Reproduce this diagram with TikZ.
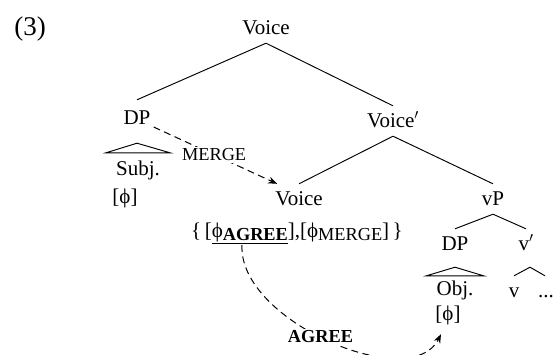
\documentclass[tikz,border=0pt]{standalone}
\usepackage{fontspec}
\setmainfont{Liberation Serif}
\usetikzlibrary{arrows.meta}

% smaller caps used for the feature labels
\newcommand\featsize{\fontsize{18.3}{18}\selectfont}
% heavy underline
\newcommand\thickul[1]{\leavevmode\vtop{\hbox{#1}\kern1.2pt\hrule height 1.7pt}}

\tikzset{
  cat/.style={font=\fontsize{21}{24}\selectfont, inner sep=0pt,
              text height=21pt, text depth=9pt, anchor=base},
  leaf/.style={font=\fontsize{21}{24}\selectfont, inner xsep=10pt, inner ysep=0pt,
               text height=22pt, text depth=6pt, anchor=base},
  branch/.style={line width=0.95pt},
  dashline/.style={line width=1pt, dash pattern=on 7pt off 4.5pt},
  lbl/.style={fill=white, inner sep=2pt, font=\featsize},
  tip/.style={-{Stealth[length=9pt,width=7pt]}},
}

\begin{document}
\begin{tikzpicture}[x=1pt, y=-1pt]
  \useasboundingbox (0,0) rectangle (557,354);

  \node[font=\fontsize{27}{31}\selectfont] (ex) at (30,29) {(3)};

  % categories
  \node[cat] (voice0) at (266,34) {Voice};
  \node[cat] (dp1) at (137,124) {DP};
  \node[cat] (voicebar) at (393,127) {Voice$'$};
  \node[cat] (voice2) at (299,205) {Voice};
  \node[cat] (vp) at (493,205) {vP};
  \node[cat] (dp2) at (455,250) {DP};
  \node[cat] (vbar) at (526,250) {v$'$};
  \node[cat] (v) at (514,297) {v};
  \node[cat] (dots) at (546,297) {...};

  % leaves under roofs
  \node[leaf] (subj) at (138,175) {Subj.};
  \node[leaf, inner xsep=0pt] (phi1) at (125,203) {[ϕ]};
  \node[leaf, text height=19pt] (obj) at (455,295) {Obj.};
  \node[leaf, inner xsep=0pt] (phi2) at (448,320) {[ϕ]};

  % feature set on the Voice head
  \node[cat, text height=18pt, text depth=6pt] (feat) at (297,237)
    {\{\,[\thickul{ϕ\raisebox{-3pt}{\featsize\bfseries AGREE}}],[ϕ\raisebox{-3pt}{\featsize MERGE}]\,\}};
  \coordinate (agreesrc) at (242,245);

  % branches
  \draw[branch] (voice0.south) -- ([yshift=3pt]dp1.north);
  \draw[branch] (voice0.south) -- (voicebar.north);
  \draw[branch] (voicebar.south) -- (voice2.north);
  \draw[branch] (voicebar.south) -- (vp.north);
  \draw[branch] (vp.south) -- (dp2.north);
  \draw[branch] (vp.south) -- (vbar.north);

  % roofs
  \draw[branch] ([yshift=-10pt]dp1.south) -- (subj.north east) -- (subj.north west) -- cycle;
  \draw[branch] ([yshift=-8pt]dp2.south) -- (obj.north east) -- (obj.north west) -- cycle;
  \draw[branch] (v.north) -- ([xshift=4pt,yshift=-8pt]vbar.south) -- ([xshift=-1pt]dots.north);

  % movement and agreement
  \draw[dashline, tip]
    ([shift={(3,9)}]dp1.east) -- ([xshift=2pt]voice2.north west)
    node[lbl, pos=0.49] {MERGE};
  \draw[dashline, tip]
    (agreesrc) .. controls +(-4,76) and +(-30,60) .. ([xshift=-7pt,yshift=-8pt]phi2.south)
    node[lbl, pos=0.47, font=\featsize\bfseries] {AGREE};
\end{tikzpicture}
\end{document}
